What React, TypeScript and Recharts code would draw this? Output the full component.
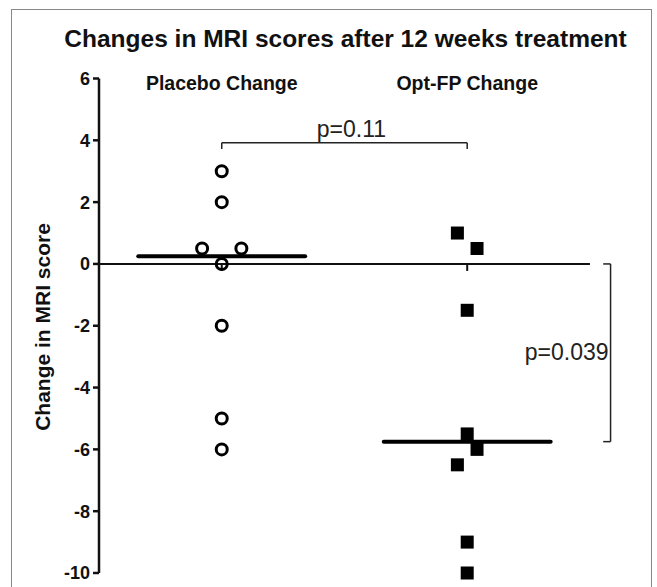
import React from "react";
import {
  ScatterChart,
  Scatter,
  XAxis,
  YAxis,
  ReferenceLine,
  ReferenceDot,
} from "recharts";

const title = "Changes in MRI scores after 12 weeks treatment";
const yLabel = "Change in MRI score";
const groups = ["Placebo Change", "Opt-FP Change"];

// values per group, with the column-scatter slot each point sits in (-2..2)
const placeboValues = [3, 2, 0.5, 0.5, 0, -2, -5, -6];
const placeboSlots = [0, 0, -2, 2, 0, 0, 0, 0];
const optValues = [1, 0.5, -1.5, -5.5, -6, -6.5, -9, -10];
const optSlots = [-1, 1, 0, 0, 1, -1, 0, 0];

const yTicks = [6, 4, 2, 0, -2, -4, -6, -8, -10];
const pLabels = ["p=0.11", "p=0.039"];

const FONT = "'Liberation Sans', Arial, Helvetica, sans-serif";
const SLOT = 0.04;
const HALF = 0.34;
const X_DOMAIN = [0.5, 2.62];

const median = (v: number[]) => {
  const s = [...v].sort((a, b) => a - b);
  const m = s.length / 2;
  return s.length % 2 ? s[Math.floor(m)] : (s[m - 1] + s[m]) / 2;
};

const toPoints = (vals: number[], slots: number[], g: number) =>
  vals.map((y, i) => ({ x: g + 1 + slots[i] * SLOT, y }));

const placeboPoints = toPoints(placeboValues, placeboSlots, 0);
const optPoints = toPoints(optValues, optSlots, 1);
const medians = [median(placeboValues), median(optValues)];

const openCircle = (p: any) => (
  <circle cx={p.cx} cy={p.cy} r={5.5} fill="none" stroke="#000" strokeWidth={3} />
);
const filledSquare = (p: any) => (
  <rect x={p.cx - 6.5} y={p.cy - 6.5} width={13} height={13} fill="#000" />
);

const line = { stroke: "#222", strokeWidth: 1.5 };

// bracket geometry (annotation, not data)
const topBracketY = 3.92;
const tickDrop = 0.2;
const sideX = 2.584;
const sideTick = 0.03;

export default function App() {
  return (
    <div
      style={{
        position: "absolute",
        left: 0,
        top: 0,
        width: 657,
        height: 587,
        overflow: "hidden",
        background: "#fff",
      }}
    >
      <div
        style={{
          position: "absolute",
          left: 11,
          top: 9,
          width: 639,
          height: 640,
          border: "1.5px solid #888",
        }}
      />
      <div
        style={{
          position: "absolute",
          left: 40,
          top: 27,
          width: 611,
          textAlign: "center",
          fontFamily: FONT,
          fontWeight: "bold",
          fontSize: 24.5,
          lineHeight: 1,
          color: "#111",
          whiteSpace: "nowrap",
        }}
      >
        {title}
      </div>
      <div
        style={{
          position: "absolute",
          left: 43 - 130,
          top: 327 - 12,
          width: 260,
          height: 24,
          lineHeight: "24px",
          textAlign: "center",
          transform: "rotate(-90deg)",
          fontFamily: FONT,
          fontWeight: "bold",
          fontSize: 21,
          color: "#111",
          whiteSpace: "nowrap",
          zIndex: 2,
        }}
      >
        {yLabel}
      </div>
      <div style={{ position: "absolute", left: 0, top: 0 }}>
        <ScatterChart
          width={657}
          height={587}
          margin={{ top: 78.5, right: 37.6, bottom: 14, left: 39 }}
        >
          <XAxis dataKey="x" type="number" domain={X_DOMAIN} hide />
          <YAxis
            dataKey="y"
            type="number"
            domain={[-10, 6]}
            ticks={yTicks}
            interval={0}
            width={60}
            tickSize={6}
            tickMargin={3}
            axisLine={{ stroke: "#111", strokeWidth: 2.5 }}
            tickLine={{ stroke: "#111", strokeWidth: 2.5 }}
            tick={{ fontSize: 18, fontWeight: "bold", fill: "#111", fontFamily: FONT }}
          />

          {/* group headers */}
          {groups.map((g, i) => (
            <ReferenceDot
              key={"h" + g}
              x={i + 1}
              y={6}
              ifOverflow="visible"
              shape={(p: any) => (
                <text
                  x={p.cx}
                  y={p.cy + 11.5}
                  textAnchor="middle"
                  fontFamily={FONT}
                  fontWeight="bold"
                  fontSize={19.5}
                  fill="#111"
                >
                  {g}
                </text>
              )}
            />
          ))}

          <ReferenceLine
            segment={[
              { x: 0.5, y: 0 },
              { x: 2.5, y: 0 },
            ]}
            stroke="#111"
            strokeWidth={2}
            ifOverflow="visible"
          />
          {groups.map((g, i) => (
            <ReferenceDot
              key={g}
              x={i + 1}
              y={0}
              ifOverflow="visible"
              shape={(p: any) => (
                <line x1={p.cx} y1={p.cy} x2={p.cx} y2={p.cy + 7} stroke="#111" strokeWidth={2} />
              )}
            />
          ))}

          {medians.map((m, i) => (
            <ReferenceLine
              key={"m" + i}
              segment={[
                { x: i + 1 - HALF, y: m },
                { x: i + 1 + HALF, y: m },
              ]}
              stroke="#000"
              strokeWidth={4}
              strokeLinecap="round"
              ifOverflow="visible"
            />
          ))}

          {/* p=0.11 bracket between the groups */}
          <ReferenceLine
            segment={[{ x: 1, y: topBracketY }, { x: 2, y: topBracketY }]}
            {...line}
            ifOverflow="visible"
          />
          {[1, 2].map((x) => (
            <ReferenceLine
              key={"bt" + x}
              segment={[{ x, y: topBracketY }, { x, y: topBracketY - tickDrop }]}
              {...line}
              ifOverflow="visible"
            />
          ))}
          <ReferenceDot
            x={1.5}
            y={topBracketY}
            ifOverflow="visible"
            shape={(p: any) => (
              <text
                x={p.cx + 7}
                y={p.cy - 6}
                textAnchor="middle"
                fontFamily={FONT}
                fontSize={23}
                fill="#222"
              >
                {pLabels[0]}
              </text>
            )}
          />

          {/* p=0.039 bracket from zero to the Opt-FP median */}
          <ReferenceLine
            segment={[{ x: sideX, y: 0 }, { x: sideX, y: medians[1] }]}
            {...line}
            ifOverflow="visible"
          />
          {[0, medians[1]].map((y) => (
            <ReferenceLine
              key={"st" + y}
              segment={[{ x: sideX - sideTick, y }, { x: sideX, y }]}
              {...line}
              ifOverflow="visible"
            />
          ))}
          <ReferenceDot
            x={sideX}
            y={-2.85}
            ifOverflow="visible"
            shape={(p: any) => (
              <text
                x={p.cx - 2}
                y={p.cy}
                textAnchor="end"
                dominantBaseline="central"
                fontFamily={FONT}
                fontSize={23}
                fill="#222"
              >
                {pLabels[1]}
              </text>
            )}
          />

          <Scatter
            name={groups[0]}
            data={placeboPoints}
            shape={openCircle}
            isAnimationActive={false}
          />
          <Scatter
            name={groups[1]}
            data={optPoints}
            shape={filledSquare}
            isAnimationActive={false}
          />
        </ScatterChart>
      </div>
    </div>
  );
}
